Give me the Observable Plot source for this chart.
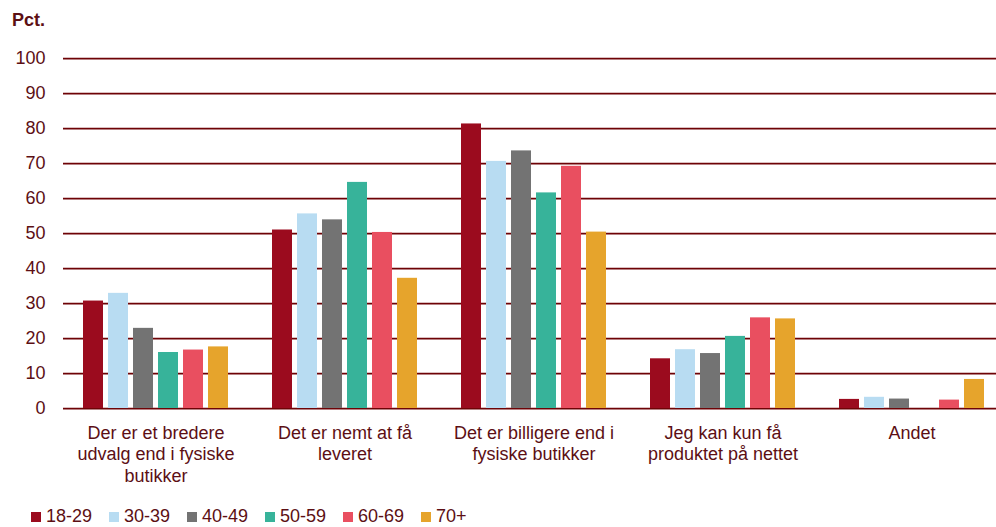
<!DOCTYPE html>
<html>
<head>
<meta charset="utf-8">
<script src="https://cdn.jsdelivr.net/npm/d3@7"></script>
<script src="https://cdn.jsdelivr.net/npm/@observablehq/plot@0.6"></script>
<style>
  body { margin: 0; background: #ffffff; font-family: "Liberation Sans", Arial, sans-serif; color: #5c0f14; }
  #wrap { position: relative; width: 996px; height: 527px; overflow: hidden; }
  #pct { position: absolute; left: 12px; top: 11px; font-weight: bold; font-size: 18px; line-height: 18px; }
  #chart { position: absolute; left: 0; top: 0; }
  #legend { position: absolute; left: 31px; top: 507px; font-size: 18px; line-height: 18px; white-space: nowrap; }
  .item { display: inline-block; width: 78px; }
  .sw { display: inline-block; width: 10px; height: 10px; margin-right: 5px; vertical-align: baseline; }
</style>
</head>
<body>
<div id="wrap">
  <div id="chart"></div>
  <div id="pct">Pct.</div>
  <div id="legend"></div>
</div>
<script>
const categories = [
  "Der er et bredere udvalg end i fysiske butikker",
  "Det er nemt at få leveret",
  "Det er billigere end i fysiske butikker",
  "Jeg kan kun få produktet på nettet",
  "Andet"
];
const categoryLabels = [
  "Der er et bredere\nudvalg end i fysiske\nbutikker",
  "Det er nemt at få\nleveret",
  "Det er billigere end i\nfysiske butikker",
  "Jeg kan kun få\nproduktet på nettet",
  "Andet"
];
const ageGroups = ["18-29", "30-39", "40-49", "50-59", "60-69", "70+"];
const values18_29 = [30.7, 51.0, 81.3, 14.2, 2.6];
const values30_39 = [32.9, 55.6, 70.6, 16.8, 3.2];
const values40_49 = [22.9, 53.9, 73.6, 15.7, 2.7];
const values50_59 = [16.0, 64.6, 61.6, 20.6, 0];
const values60_69 = [16.7, 50.3, 69.2, 25.9, 2.4];
const values70plus = [17.6, 37.2, 50.4, 25.6, 8.3];
const yTicks = [0, 10, 20, 30, 40, 50, 60, 70, 80, 90, 100];
const colors = ["#9b0b1e", "#b8dcf2", "#737373", "#37b39a", "#e94f60", "#e6a42c"];

const textColor = "#5c0f14";
const gridColor = "#6e0306";

const series = [values18_29, values30_39, values40_49, values50_59, values60_69, values70plus];
const table = [];
categories.forEach((c, i) => {
  ageGroups.forEach((a, j) => {
    table.push({category: c, age: a, value: series[j][i]});
  });
});

const chart = Plot.plot({
  width: 996,
  height: 500,
  marginLeft: 61,
  marginRight: -10,
  marginTop: 58,
  marginBottom: 92,
  style: {fontFamily: "'Liberation Sans', Arial, sans-serif", fontSize: "18px", color: textColor, background: "transparent"},
  fx: {domain: categories, paddingInner: 0.2, paddingOuter: 0.1, label: null},
  x: {domain: ageGroups, paddingInner: 0.2, paddingOuter: 0.1, axis: null},
  y: {domain: [0, 100], label: null},
  color: {domain: ageGroups, range: colors},
  marks: [
    Plot.ruleY(yTicks, {fx: () => categories[0], y: d => d, stroke: gridColor, strokeWidth: 1.75, insetLeft: -17, insetRight: -1000}),
    Plot.barY(table, {fx: "category", x: "age", y: "value", fill: "age"}),
    Plot.axisY({ticks: yTicks, tickSize: 0, tickPadding: 35, fontSize: 18, label: null, fill: textColor}),
    Plot.axisFx({
      anchor: "bottom",
      tickSize: 0, tickPadding: 15, fontSize: 18, lineHeight: 1.2, label: null, fill: textColor,
      tickFormat: d => categoryLabels[categories.indexOf(d)]
    })
  ]
});
document.getElementById("chart").appendChild(chart);

const legend = document.getElementById("legend");
ageGroups.forEach((a, j) => {
  const item = document.createElement("span");
  item.className = "item";
  const sw = document.createElement("span");
  sw.className = "sw";
  sw.style.background = colors[j];
  item.appendChild(sw);
  item.appendChild(document.createTextNode(a));
  legend.appendChild(item);
});
</script>
</body>
</html>
